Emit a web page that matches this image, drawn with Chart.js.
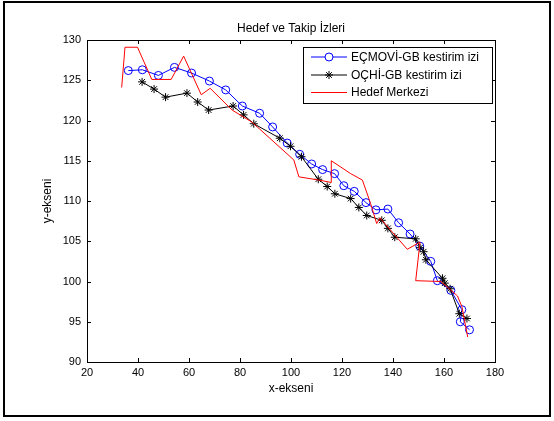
<!DOCTYPE html>
<html>
<head>
<meta charset="utf-8">
<script src="https://cdn.jsdelivr.net/npm/chart.js@4/dist/chart.umd.min.js"></script>
<style>
  body { margin: 0; background: #fff; }
  canvas { display: block; }
</style>
</head>
<body>
<canvas id="trackChart" width="554" height="421"></canvas>
<script>
// EÇMOVİ-GB kestirim izi (mavi, daire)
const ecmoviX = [36.2, 41.7, 48.0, 54.3, 61.0, 68.0, 74.4, 80.9, 87.7, 92.8, 98.5, 103.4, 108.1, 112.4, 117.1, 120.7, 124.8, 129.4, 133.3, 138.0, 142.2, 146.7, 150.5, 154.8, 157.4, 162.7, 167.0, 166.4, 170.0];
const ecmoviY = [126.2, 126.3, 125.6, 126.6, 125.9, 124.9, 123.8, 121.8, 120.9, 119.2, 117.2, 115.8, 114.6, 113.9, 113.4, 111.9, 111.2, 109.8, 108.9, 109.0, 107.3, 105.9, 104.4, 102.5, 100.1, 98.9, 96.5, 95.0, 94.0];

// OÇHİ-GB kestirim izi (siyah, yıldız)
const ochiX = [41.6, 46.3, 50.8, 59.2, 63.4, 67.7, 77.3, 81.4, 85.4, 95.6, 99.8, 104.1, 110.7, 114.2, 117.2, 123.4, 126.6, 129.7, 135.6, 138.0, 140.7, 148.9, 150.6, 152.0, 152.9, 159.4, 160.3, 162.4, 166.0, 169.0];
const ochiY = [124.8, 123.9, 122.9, 123.4, 122.3, 121.3, 121.8, 120.7, 119.6, 117.8, 116.8, 115.5, 112.7, 111.8, 110.9, 110.3, 109.2, 108.2, 107.6, 106.6, 105.5, 105.3, 104.2, 103.7, 102.7, 100.4, 99.8, 99.1, 96.0, 95.4];

// Hedef Merkezi (kırmızı çizgi)
const hedefX = [33.6, 34.9, 39.8, 45.4, 53.0, 57.9, 64.8, 68.3, 76.9, 84.7, 101.1, 103.1, 110.9, 115.8, 115.8, 123.4, 128.0, 131.2, 133.6, 134.9, 145.6, 150.6, 148.9, 158.8, 165.3, 167.0, 169.3];
const hedefY = [124.1, 129.1, 129.1, 125.1, 125.1, 128.0, 123.2, 124.0, 121.3, 119.8, 115.1, 113.0, 112.6, 112.3, 115.0, 113.4, 112.6, 109.7, 107.2, 107.9, 104.0, 104.9, 100.1, 100.0, 98.2, 96.9, 93.1];

const xTicks = [20, 40, 60, 80, 100, 120, 140, 160, 180];
const yTicks = [90, 95, 100, 105, 110, 115, 120, 125, 130];

const chartTitle = 'Hedef ve Takip İzleri';
const xLabel = 'x-ekseni';
const yLabel = 'y-ekseni';

const FONT = '"Liberation Sans", Arial, sans-serif';

function toPoints(xs, ys) {
  return xs.map((x, i) => ({ x: x, y: ys[i] }));
}

// MATLAB tarzı çerçeve, içe dönük tikler, başlık, eksen adları ve lejant
const matlabFrame = {
  id: 'matlabFrame',
  afterDraw(chart) {
    const ctx = chart.ctx;
    const a = chart.chartArea;
    const xs = chart.scales.x, ys = chart.scales.y;
    ctx.save();

    // dış çerçeve
    ctx.strokeStyle = '#000';
    ctx.lineWidth = 2;
    ctx.strokeRect(4, 2, 546, 414);

    // eksen kutusu
    ctx.lineWidth = 1;
    ctx.strokeRect(a.left + 0.5, a.top + 0.5, a.right - a.left, a.bottom - a.top);

    // tikler
    const tl = 4;
    ctx.beginPath();
    xTicks.forEach(v => {
      const px = Math.round(xs.getPixelForValue(v)) + 0.5;
      ctx.moveTo(px, a.bottom); ctx.lineTo(px, a.bottom - tl);
      ctx.moveTo(px, a.top); ctx.lineTo(px, a.top + tl);
    });
    yTicks.forEach(v => {
      const py = Math.round(ys.getPixelForValue(v)) + 0.5;
      ctx.moveTo(a.left, py); ctx.lineTo(a.left + tl, py);
      ctx.moveTo(a.right, py); ctx.lineTo(a.right - tl, py);
    });
    ctx.stroke();

    // başlık ve eksen adları
    ctx.fillStyle = '#000';
    ctx.font = '12px ' + FONT;
    ctx.textAlign = 'center';
    ctx.textBaseline = 'middle';
    const cx = (a.left + a.right) / 2;
    ctx.fillText(chartTitle, cx, 29);
    ctx.fillText(xLabel, cx, 389);
    ctx.save();
    ctx.translate(48, (a.top + a.bottom) / 2);
    ctx.rotate(-Math.PI / 2);
    ctx.fillText(yLabel, 0, 0);
    ctx.restore();

    // lejant
    const lx = 303, ly = 47, lw = 189, lh = 56;
    ctx.fillStyle = '#fff';
    ctx.fillRect(lx, ly, lw, lh);
    ctx.strokeStyle = '#000';
    ctx.strokeRect(lx + 0.5, ly + 0.5, lw, lh);
    ctx.textAlign = 'left';
    const rows = [57, 75, 92.5];
    chart.data.datasets.forEach((ds, i) => {
      const y = rows[i];
      ctx.strokeStyle = ds.borderColor;
      ctx.lineWidth = 1;
      ctx.beginPath();
      ctx.moveTo(311, y); ctx.lineTo(347, y);
      ctx.stroke();
      if (ds.pointRadius > 0) {
        Chart.helpers.drawPoint(ctx, {
          pointStyle: ds.pointStyle, radius: ds.pointRadius,
          borderWidth: 1, rotation: 0
        }, 329, y);
      }
      ctx.fillStyle = '#000';
      ctx.fillText(ds.label, 351, y + 0.5);
    });

    ctx.restore();
  }
};

new Chart(document.getElementById('trackChart'), {
  type: 'scatter',
  data: {
    datasets: [
      {
        label: 'EÇMOVİ-GB kestirim izi',
        data: toPoints(ecmoviX, ecmoviY),
        showLine: true,
        borderColor: '#0000ff',
        backgroundColor: 'rgba(0,0,0,0)',
        borderWidth: 1,
        pointStyle: 'circle',
        pointRadius: 4,
        pointBorderWidth: 1,
        order: 2
      },
      {
        label: 'OÇHİ-GB kestirim izi',
        data: toPoints(ochiX, ochiY),
        showLine: true,
        borderColor: '#000000',
        backgroundColor: 'rgba(0,0,0,0)',
        borderWidth: 1,
        pointStyle: 'star',
        pointRadius: 4,
        pointBorderWidth: 1,
        order: 1
      },
      {
        label: 'Hedef Merkezi',
        data: toPoints(hedefX, hedefY),
        showLine: true,
        borderColor: '#ff0000',
        borderWidth: 1,
        pointRadius: 0,
        order: 0
      }
    ]
  },
  options: {
    responsive: false,
    animation: false,
    events: [],
    layout: { padding: { left: 0, top: 40, right: 59, bottom: 0 } },
    plugins: {
      legend: { display: false },
      title: { display: false },
      tooltip: { enabled: false }
    },
    scales: {
      x: {
        type: 'linear',
        min: 20, max: 180,
        grid: { display: false, drawTicks: false },
        border: { display: false },
        afterBuildTicks: s => { s.ticks = xTicks.map(v => ({ value: v })); },
        afterFit: s => { s.height = 59; },
        ticks: { color: '#000', padding: 4, maxRotation: 0, font: { family: FONT, size: 11 } }
      },
      y: {
        type: 'linear',
        min: 90, max: 130,
        grid: { display: false, drawTicks: false },
        border: { display: false },
        afterBuildTicks: s => { s.ticks = yTicks.map(v => ({ value: v })); },
        afterFit: s => { s.width = 87; },
        ticks: { color: '#000', padding: 6, font: { family: FONT, size: 11 } }
      }
    }
  },
  plugins: [matlabFrame]
});
</script>
</body>
</html>
